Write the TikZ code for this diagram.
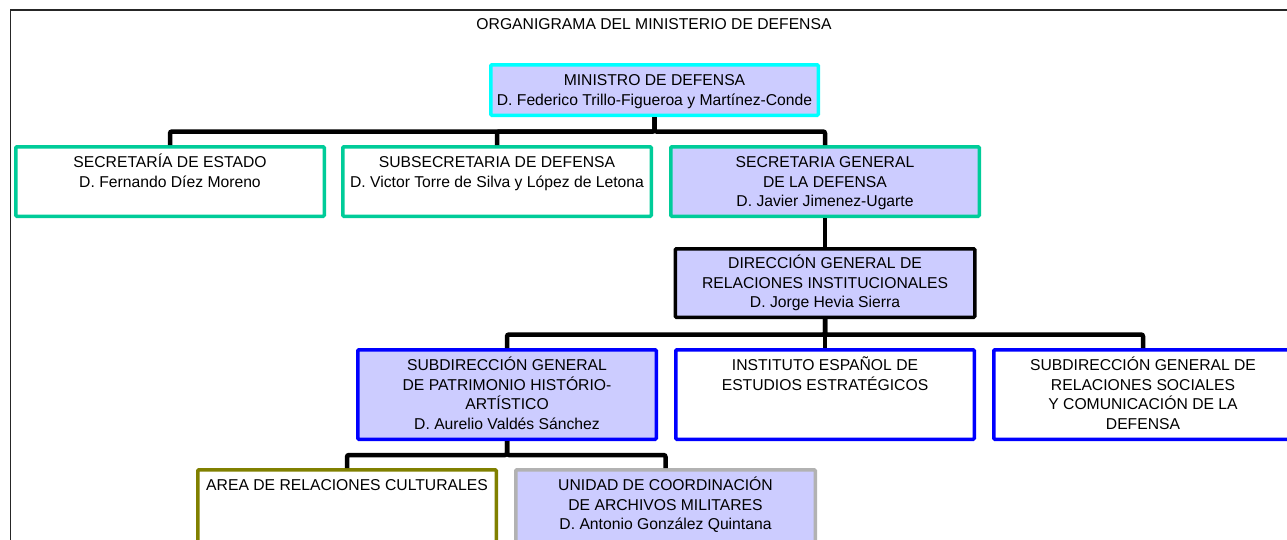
\documentclass[tikz,border=0pt]{standalone}
\usepackage{fontspec}
\setmainfont{Liberation Sans}
\usetikzlibrary{calc}
\definecolor{lila}{RGB}{204,204,255}
\definecolor{turquesa}{RGB}{0,204,153}
\definecolor{celeste}{RGB}{0,255,255}
\definecolor{azul}{RGB}{0,0,255}
\definecolor{oliva}{RGB}{128,128,0}
\definecolor{gris}{RGB}{178,178,178}
\tikzset{
  caja/.style 2 args={draw=#1,fill=#2,line width=3.5pt,rounded corners=1pt,inner sep=0pt},
  texto/.style={anchor=base,align=center,inner sep=0pt,font=\fontsize{15.7}{19.5}\selectfont},
  enlace/.style={line width=4.5pt,rounded corners=2pt},
}

\begin{document}
\begin{tikzpicture}[x=1pt,y=-1pt]

        \clip (0,0) rectangle (1287,539);
        \draw[line width=1.6pt,black!85] (10.5,10) rectangle (1300,560);

        \node[texto] (titulo) at (654,29.5) {ORGANIGRAMA DEL MINISTERIO DE DEFENSA};

        % primer nivel
        \node[caja={celeste}{lila},minimum width=327.5pt,minimum height=50.5pt] (min) at (654.5,90) {};
        \node[caja={turquesa}{white},minimum width=308.5pt,minimum height=69.5pt] (sec) at (170,181.5) {};
        \node[caja={turquesa}{white},minimum width=308.5pt,minimum height=69.5pt] (sub) at (497,181.5) {};
        \node[caja={turquesa}{lila},minimum width=308.5pt,minimum height=69.5pt] (sg) at (825,181.5) {};

        % el texto se apoya en la base de su ultima linea
        \node[texto] (minT) at ([yshift=-42pt]min.north) {MINISTRO DE DEFENSA\\D. Federico Trillo-Figueroa y Martínez-Conde};
        \node[texto] (secT) at ([yshift=-42pt]sec.north) {SECRETARÍA DE ESTADO\\D. Fernando Díez Moreno};
        \node[texto] (subT) at ([yshift=-42pt]sub.north) {SUBSECRETARIA DE DEFENSA\\D. Victor Torre de Silva y López de Letona};
        \node[texto] (sgT) at ([yshift=-61.5pt]sg.north) {SECRETARIA GENERAL\\DE LA DEFENSA\\D. Javier Jimenez-Ugarte};

        % direccion general
        \node[caja={black}{lila},minimum width=299.5pt,minimum height=68.5pt] (dgri) at (825,283) {};
        \node[texto] (dgriT) at ([yshift=-60.5pt]dgri.north) {DIRECCIÓN GENERAL DE\\RELACIONES INSTITUCIONALES\\D. Jorge Hevia Sierra};

        \node[caja={azul}{lila},minimum width=298.5pt,minimum height=89.5pt] (sdph) at (507,394.5) {};
        \node[caja={azul}{white},minimum width=298.5pt,minimum height=89.5pt] (ieee) at (825,394.5) {};
        \node[caja={azul}{white},minimum width=298.5pt,minimum height=89.5pt] (sdrs) at (1143,394.5) {};

        \node[texto] (sdphT) at ([yshift=-81pt]sdph.north) {SUBDIRECCIÓN GENERAL\\DE PATRIMONIO HISTÓRIO-\\ARTÍSTICO\\D. Aurelio Valdés Sánchez};
        \node[texto] (ieeeT) at ([yshift=-42pt]ieee.north) {INSTITUTO ESPAÑOL DE\\ESTUDIOS ESTRATÉGICOS};
        \node[texto] (sdrsT) at ([yshift=-81pt]sdrs.north) {SUBDIRECCIÓN GENERAL DE\\RELACIONES SOCIALES\\Y COMUNICACIÓN DE LA\\DEFENSA};

        % ultimo nivel
        \node[caja={oliva}{white},minimum width=298.5pt,minimum height=89.5pt] (area) at (347,514.5) {};
        \node[caja={gris}{lila},minimum width=299.5pt,minimum height=89.5pt] (ucam) at (665.5,514.5) {};

        \node[texto] (areaT) at ([yshift=-22.5pt]area.north) {AREA DE RELACIONES CULTURALES};
        \node[texto] (ucamT) at ([yshift=-61.5pt]ucam.north) {UNIDAD DE COORDINACIÓN\\DE ARCHIVOS MILITARES\\D. Antonio González Quintana};

        \foreach \b in {sec,sub,sg}
            \draw[enlace] (min.south) |- ([yshift=13.5pt]\b.north) -- (\b.north);
        \draw[enlace] (sg.south) -- (dgri.north);
        \foreach \b in {sdph,ieee,sdrs}
            \draw[enlace] (dgri.south) |- ([yshift=13.5pt]\b.north) -- (\b.north);
        \foreach \b in {area,ucam}
            \draw[enlace] (sdph.south) |- ([yshift=13pt]\b.north) -- (\b.north);

\end{tikzpicture}
\end{document}
